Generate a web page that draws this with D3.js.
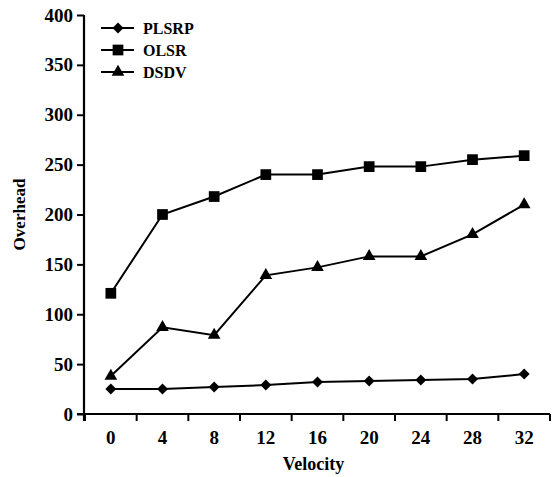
<!DOCTYPE html>
<html>
<head>
<meta charset="utf-8">
<script src="https://cdn.jsdelivr.net/npm/d3@7"></script>
<style>
  body { margin: 0; background: #fff; }
  svg { font-family: "Liberation Serif", "DejaVu Serif", serif; font-weight: bold; }
</style>
</head>
<body>
<svg id="chart" width="552" height="477"></svg>
<script>
var velocity = [0, 4, 8, 12, 16, 20, 24, 28, 32];
var plsrp = [25, 25, 27, 29, 32, 33, 34, 35, 40];
var olsr = [121, 200, 218, 240, 240, 248, 248, 255, 259];
var dsdv = [38, 87, 79, 139, 147, 158, 158, 180, 210];
var yTicks = [0, 50, 100, 150, 200, 250, 300, 350, 400];

var series = [
    { name: 'PLSRP', values: plsrp, symbol: d3.symbolSquare, size: 60, rotate: 45 },
    { name: 'OLSR', values: olsr, symbol: d3.symbolSquare, size: 115, rotate: 0 },
    { name: 'DSDV', values: dsdv, symbol: d3.symbolTriangle, size: 70, rotate: 0 }
];

var mLeft = 85, mRight = 550, mTop = 15, mBottom = 414;

var svg = d3.select('#chart');

var x = d3.scaleBand()
    .domain(velocity)
    .range([mLeft, mRight]);

var y = d3.scaleLinear()
    .domain([0, 400])
    .range([mBottom, mTop]);

// axes
var xAxis = svg.append('g')
    .attr('transform', `translate(0 ${mBottom})`)
    .call(d3.axisBottom(x).tickSize(0).tickPadding(17));

xAxis.select('.domain').attr('stroke-width', 2.2).attr('d', `M${mLeft - 8},0H${mRight}`);

// ticks at band edges
xAxis.selectAll('.edge')
    .data(velocity.map(d => x(d)).concat([mRight]))
    .enter()
    .append('line')
    .attr('class', 'edge')
    .attr('x1', d => d).attr('x2', d => d)
    .attr('y1', 0).attr('y2', 7)
    .attr('stroke', '#000')
    .attr('stroke-width', 2);

var yAxis = svg.append('g')
    .attr('transform', `translate(${mLeft - 1} 0)`)
    .call(d3.axisLeft(y).tickValues(yTicks).tickSize(7).tickSizeOuter(0).tickPadding(4));

yAxis.select('.domain').attr('stroke-width', 2.2).attr('d', `M0,${mTop}V${mBottom + 7}`);
yAxis.selectAll('.tick line').attr('stroke-width', 2);

svg.selectAll('.tick text')
    .attr('font-family', '"Liberation Serif", serif')
    .attr('font-weight', 'bold')
    .attr('font-size', 19)
    .attr('fill', '#000');

// titles
svg.append('text')
    .attr('x', (mLeft + mRight) / 2 - 4)
    .attr('y', 470)
    .attr('text-anchor', 'middle')
    .attr('font-size', 18)
    .text('Velocity');

svg.append('text')
    .attr('transform', `translate(25 ${(mTop + mBottom) / 2}) rotate(-90)`)
    .attr('text-anchor', 'middle')
    .attr('font-size', 17)
    .text('Overhead');

// lines and markers
var line = d3.line()
    .x((d, i) => x(velocity[i]) + x.bandwidth() / 2)
    .y(d => y(d));

var g = svg.selectAll('.series')
    .data(series)
    .enter()
    .append('g')
    .attr('class', 'series');

g.append('path')
    .attr('d', d => line(d.values))
    .attr('fill', 'none')
    .attr('stroke', '#000')
    .attr('stroke-width', 2);

g.each(function(s) {
    d3.select(this).selectAll('.pt')
        .data(s.values)
        .enter()
        .append('path')
        .attr('class', 'pt')
        .attr('d', d3.symbol().type(s.symbol).size(s.size))
        .attr('transform', (d, i) => `translate(${x(velocity[i]) + x.bandwidth() / 2} ${y(d)}) rotate(${s.rotate})`)
        .attr('fill', '#000');
});

// legend
var legend = svg.append('g')
    .selectAll('g')
    .data(series)
    .enter()
    .append('g')
    .attr('transform', (d, i) => `translate(101 ${28 + i * 22})`);

legend.append('line')
    .attr('x1', 0).attr('x2', 33)
    .attr('stroke', '#000')
    .attr('stroke-width', 2);

legend.append('path')
    .attr('d', d => d3.symbol().type(d.symbol).size(d.size)())
    .attr('transform', d => `translate(17 0) rotate(${d.rotate})`);

legend.append('text')
    .attr('x', 42)
    .attr('dy', '0.35em')
    .attr('font-size', 16)
    .text(d => d.name);
</script>
</body>
</html>
